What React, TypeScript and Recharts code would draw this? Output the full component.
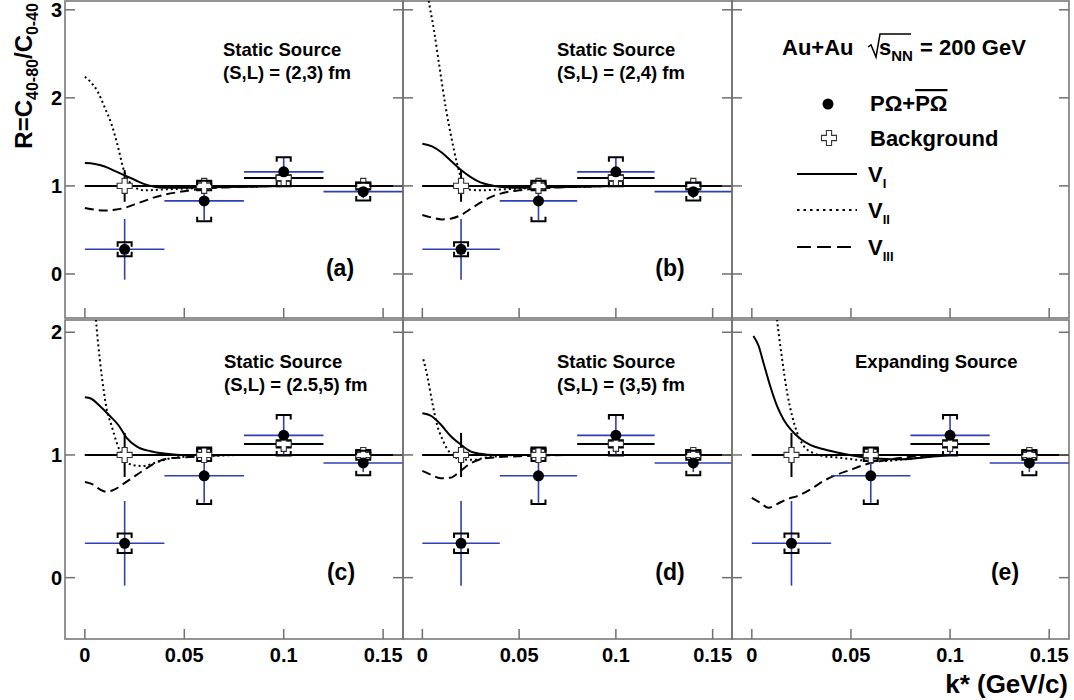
import React from 'react';
import { ComposedChart, Line, Scatter, ErrorBar, XAxis, YAxis, ReferenceLine, ReferenceArea } from 'recharts';

// measured ratio and background (same in every panel)
const kStar = [0.02, 0.06, 0.1, 0.14];
const kBin = [0.02, 0.02, 0.02, 0.02];
const ratio = [0.28, 0.83, 1.16, 0.935];
const ratioStat = [0.345, 0.22, 0.16, 0.075];
const ratioSys = [0.08, 0.23, 0.165, 0.1];
const bgRatio = [1.0, 1.0, 1.09, 1.0];
const bgStat = [0.18, 0.03, 0.03, 0.02];
const bgSys = [0, 0.05, 0.03, 0.04];

const xTicks = [0, 0.05, 0.1, 0.15];
const yTicksTop = [0, 1, 2, 3];
const yTicksBottom = [0, 1, 2];

// model curves as [k*, R]
const aV1 = [[0, 1.26], [0.005, 1.25], [0.01, 1.22], [0.015, 1.17], [0.02, 1.12], [0.025, 1.07], [0.03, 1.02], [0.035, 0.99], [0.04, 0.98], [0.05, 0.98], [0.06, 0.985], [0.08, 0.99], [0.1, 1.0], [0.16, 1.0]];
const aV2 = [[0, 2.24], [0.0025, 2.19], [0.0067, 2.06], [0.01, 1.89], [0.0134, 1.7], [0.0168, 1.43], [0.0193, 1.2], [0.022, 1.06], [0.0252, 0.985], [0.03, 0.95], [0.04, 0.96], [0.05, 0.97], [0.06, 0.98], [0.08, 0.99], [0.1, 1.0], [0.16, 1.0]];
const aV3 = [[0, 0.75], [0.005, 0.73], [0.01, 0.72], [0.015, 0.73], [0.02, 0.75], [0.025, 0.79], [0.03, 0.83], [0.035, 0.87], [0.04, 0.9], [0.05, 0.94], [0.06, 0.97], [0.08, 0.99], [0.1, 1.0], [0.16, 1.0]];

const bV1 = [[0, 1.48], [0.005, 1.45], [0.01, 1.38], [0.015, 1.28], [0.02, 1.18], [0.025, 1.1], [0.03, 1.04], [0.035, 1.01], [0.04, 0.99], [0.05, 0.98], [0.06, 0.985], [0.08, 0.99], [0.1, 1.0], [0.16, 1.0]];
const bV2 = [[0.001, 3.5], [0.003, 3.15], [0.006, 2.77], [0.009, 2.33], [0.012, 1.9], [0.015, 1.55], [0.018, 1.25], [0.021, 1.03], [0.024, 0.96], [0.03, 0.95], [0.04, 0.96], [0.05, 0.97], [0.06, 0.98], [0.08, 0.99], [0.1, 1.0], [0.16, 1.0]];
const bV3 = [[0, 0.67], [0.005, 0.64], [0.01, 0.62], [0.015, 0.63], [0.02, 0.67], [0.025, 0.74], [0.03, 0.81], [0.035, 0.87], [0.04, 0.91], [0.05, 0.95], [0.06, 0.97], [0.08, 0.99], [0.1, 1.0], [0.16, 1.0]];

const cV1 = [[0, 1.47], [0.003, 1.46], [0.0075, 1.4], [0.0125, 1.32], [0.017, 1.24], [0.021, 1.14], [0.026, 1.07], [0.033, 1.03], [0.041, 1.01], [0.05, 1.0], [0.16, 1.0]];
const cV2 = [[0.002, 3.0], [0.004, 2.5], [0.0055, 2.12], [0.0075, 1.78], [0.0096, 1.51], [0.011, 1.37], [0.0134, 1.24], [0.016, 1.1], [0.019, 0.99], [0.0235, 0.92], [0.029, 0.91], [0.036, 0.94], [0.041, 0.965], [0.05, 0.985], [0.06, 0.99], [0.08, 1.0], [0.16, 1.0]];
const cV3 = [[0, 0.78], [0.004, 0.76], [0.0075, 0.72], [0.011, 0.7], [0.015, 0.72], [0.019, 0.76], [0.024, 0.815], [0.029, 0.87], [0.036, 0.94], [0.041, 0.97], [0.05, 0.98], [0.06, 0.99], [0.07, 1.0], [0.16, 1.0]];

const dV1 = [[0, 1.34], [0.0043, 1.32], [0.0094, 1.25], [0.0146, 1.155], [0.0197, 1.087], [0.0248, 1.03], [0.03, 1.01], [0.037, 1.0], [0.16, 1.0]];
const dV2 = [[0.0005, 1.78], [0.0026, 1.64], [0.0051, 1.43], [0.0077, 1.24], [0.0103, 1.13], [0.0128, 1.05], [0.0163, 0.99], [0.0197, 0.965], [0.0265, 0.96], [0.033, 0.98], [0.04, 0.99], [0.05, 1.0], [0.16, 1.0]];
const dV3 = [[0, 0.87], [0.0043, 0.84], [0.0094, 0.81], [0.0146, 0.815], [0.0197, 0.87], [0.0248, 0.93], [0.03, 0.965], [0.037, 0.98], [0.05, 0.99], [0.06, 0.995], [0.08, 1.0], [0.16, 1.0]];

const eV1 = [[0.0008, 1.97], [0.0034, 1.89], [0.0059, 1.75], [0.0093, 1.56], [0.0127, 1.4], [0.016, 1.29], [0.0195, 1.21], [0.0246, 1.13], [0.0297, 1.08], [0.0364, 1.046], [0.043, 1.02], [0.05, 0.997], [0.057, 0.98], [0.065, 0.97], [0.074, 0.965], [0.084, 0.975], [0.094, 0.99], [0.1, 1.0], [0.16, 1.0]];
const eV2 = [[0.008, 3.0], [0.0105, 2.5], [0.0127, 2.11], [0.0153, 1.78], [0.0178, 1.51], [0.0203, 1.32], [0.0229, 1.18], [0.0263, 1.07], [0.0305, 1.02], [0.0364, 0.99], [0.043, 0.98], [0.053, 0.96], [0.065, 0.95], [0.077, 0.965], [0.091, 0.99], [0.1, 1.0], [0.16, 1.0]];
const eV3 = [[0, 0.65], [0.0042, 0.61], [0.0085, 0.57], [0.0127, 0.6], [0.0178, 0.64], [0.0229, 0.665], [0.0297, 0.72], [0.0364, 0.79], [0.043, 0.84], [0.05, 0.88], [0.0568, 0.92], [0.065, 0.95], [0.077, 0.98], [0.091, 0.997], [0.1, 1.0], [0.16, 1.0]];

const FONT = '"Liberation Sans", Arial, Helvetica, sans-serif';
const FRAME = '#707070';
const BLUE = '#2f3fb4';
const DASHES = [undefined, '2 3', '9 5'];

// frame boxes of the pads, in page pixels
const COLS = [{ left: 65, width: 338 }, { left: 403, width: 329 }, { left: 732, width: 337 }];
const ROWS = [
  { top: 1, height: 317, domain: [-0.5, 3.1], ticks: yTicksTop },
  { top: 320, height: 319, domain: [-0.5, 2.1], ticks: yTicksBottom },
];

const panels = [
  { col: 0, row: 0, curves: [aV1, aV2, aV3] },
  { col: 1, row: 0, curves: [bV1, bV2, bV3] },
  { col: 2, row: 0, curves: [] },
  { col: 0, row: 1, curves: [cV1, cV2, cV3] },
  { col: 1, row: 1, curves: [dV1, dV2, dV3] },
  { col: 2, row: 1, curves: [eV1, eV2, eV3] },
];

const notes = [
  { lines: ['Static Source', '(S,L) = (2,3) fm'], x: 223, y: [56, 79], tag: '(a)', tx: 340, ty: 276 },
  { lines: ['Static Source', '(S,L) = (2,4) fm'], x: 557, y: [56, 79], tag: '(b)', tx: 670, ty: 276 },
  { lines: ['Static Source', '(S,L) = (2.5,5) fm'], x: 224, y: [368, 391], tag: '(c)', tx: 341, ty: 580 },
  { lines: ['Static Source', '(S,L) = (3,5) fm'], x: 557, y: [368, 391], tag: '(d)', tx: 670, ty: 580 },
  { lines: ['Expanding Source'], x: 855, y: [368], tag: '(e)', tx: 1005, ty: 580 },
];

const toPts = (pairs: number[][]) => pairs.map(([x, y]) => ({ x, y }));
const dataPts = kStar.map((x, i) => ({ x, y: ratio[i], ex: kBin[i], ey: ratioStat[i] }));
const bgPts = kStar.map((x, i) => ({ x, y: bgRatio[i], ex: kBin[i], ey: bgStat[i] }));
const brackets = (vals: number[], sys: number[]) =>
  kStar.flatMap((x, i) => (sys[i] > 0 ? [{ x, y: vals[i] + sys[i], side: 1 }, { x, y: vals[i] - sys[i], side: -1 }] : []));
const dataBr = brackets(ratio, ratioSys);
const bgBr = brackets(bgRatio, bgSys);

const TICK = 10;
const leftTick = (label: boolean) => (p: any) => (
  <g>
    <line x1={p.x} y1={p.y} x2={p.x + TICK} y2={p.y} stroke={FRAME} strokeWidth={1.5} />
    {label && (
      <text x={p.x - 3} y={p.y + 7} textAnchor="end" fontFamily={FONT} fontWeight="bold" fontSize={20} fill="#000">
        {String(p.payload.value)}
      </text>
    )}
  </g>
);
const rightTick = (p: any) => (
  <line x1={p.x} y1={p.y} x2={p.x - TICK} y2={p.y} stroke={FRAME} strokeWidth={1.5} />
);
const bottomTick = (label: boolean) => (p: any) => (
  <g>
    <line x1={p.x} y1={p.y} x2={p.x} y2={p.y - TICK} stroke={FRAME} strokeWidth={1.5} />
    {label && (
      <text x={p.x} y={p.y + 23} textAnchor="middle" fontFamily={FONT} fontWeight="bold" fontSize={20} fill="#000">
        {String(p.payload.value)}
      </text>
    )}
  </g>
);

const dot = (p: any) => <circle cx={p.cx} cy={p.cy} r={5.5} fill="#000" />;
const crossPoints = (cx: number, cy: number, a: number, w: number) =>
  [[-w, -a], [w, -a], [w, -w], [a, -w], [a, w], [w, w], [w, a], [-w, a], [-w, w], [-a, w], [-a, -w], [-w, -w]]
    .map(([dx, dy]) => `${cx + dx},${cy + dy}`)
    .join(' ');
const cross = (p: any) => <polygon points={crossPoints(p.cx, p.cy, 7.5, 2.6)} fill="#fff" stroke="#333" strokeWidth={1.1} />;
const bracket = (p: any) => {
  const s = p.payload.side;
  return (
    <path d={`M${p.cx - 7},${p.cy + 4.5 * s} V${p.cy} H${p.cx + 7} V${p.cy + 4.5 * s}`} fill="none" stroke="#000" strokeWidth={2} />
  );
};

function Panel({ col, row, curves }: { col: number; row: number; curves: number[][][] }) {
  const c = COLS[col];
  const r = ROWS[row];
  const padL = col === 0 ? 65 : 4;
  const padB = row === 1 ? 40 : 4;
  const padT = 4;
  const padR = 4;
  const hasData = curves.length > 0;
  return (
    <div style={{ position: 'absolute', left: c.left - padL, top: r.top - padT }}>
      <ComposedChart width={padL + c.width + padR} height={padT + r.height + padB} margin={{ top: padT, right: 0, bottom: 0, left: 0 }}>
        <XAxis type="number" dataKey="x" domain={[-0.01, 0.16]} ticks={xTicks} interval={0} allowDataOverflow height={padB}
          axisLine={false} tickLine={false} tickSize={0} tickMargin={0} tick={bottomTick(row === 1)} />
        <YAxis type="number" domain={r.domain} ticks={r.ticks} interval={0} allowDataOverflow width={padL}
          axisLine={false} tickLine={false} tickSize={0} tickMargin={0} tick={leftTick(col === 0)} />
        <YAxis yAxisId="r" orientation="right" type="number" domain={r.domain} ticks={r.ticks} interval={0} allowDataOverflow width={padR}
          axisLine={false} tickLine={false} tickSize={0} tickMargin={0} tick={rightTick} />
        <ReferenceArea x1={-0.01} x2={0.16} y1={r.domain[0]} y2={r.domain[1]} fill="none" fillOpacity={0} stroke={FRAME} strokeWidth={1.5} />
        {hasData && <ReferenceLine segment={[{ x: 0, y: 1 }, { x: 0.16, y: 1 }]} stroke="#000" strokeWidth={2} />}
        {curves.map((cv, i) => (
          <Line key={i} data={toPts(cv)} dataKey="y" type="monotone" stroke="#000" strokeWidth={2}
            strokeDasharray={DASHES[i]} dot={false} activeDot={false} isAnimationActive={false} />
        ))}
        {hasData && <Scatter data={bgBr} dataKey="y" shape={bracket} isAnimationActive={false} />}
        {hasData && (
          <Scatter data={bgPts} dataKey="y" shape={cross} isAnimationActive={false}>
            <ErrorBar dataKey="ex" direction="x" width={0} stroke="#000" strokeWidth={2} />
            <ErrorBar dataKey="ey" direction="y" width={0} stroke="#000" strokeWidth={2} />
          </Scatter>
        )}
        {hasData && <Scatter data={dataBr} dataKey="y" shape={bracket} isAnimationActive={false} />}
        {hasData && (
          <Scatter data={dataPts} dataKey="y" shape={dot} isAnimationActive={false}>
            <ErrorBar dataKey="ex" direction="x" width={0} stroke={BLUE} strokeWidth={1.6} />
            <ErrorBar dataKey="ey" direction="y" width={0} stroke={BLUE} strokeWidth={1.6} />
          </Scatter>
        )}
      </ComposedChart>
    </div>
  );
}

const txt = { fontFamily: FONT, fontWeight: 'bold' as const, fill: '#000' };

export default function App() {
  return (
    <div style={{ position: 'absolute', left: 0, top: 0, width: 1074, height: 700, background: '#fff' }}>
      {panels.map((p, i) => (
        <Panel key={i} col={p.col} row={p.row} curves={p.curves} />
      ))}
      <svg width={1074} height={700} style={{ position: 'absolute', left: 0, top: 0, pointerEvents: 'none' }}>
        {notes.map((n, i) => (
          <g key={i} {...txt}>
            {n.lines.map((l, j) => (
              <text key={j} x={n.x} y={n.y[j]} fontSize={18.5}>{l}</text>
            ))}
            <text x={n.tx} y={n.ty} fontSize={23} textAnchor="middle">{n.tag}</text>
          </g>
        ))}

        {/* axis titles */}
        <text transform="translate(32,3) rotate(-90)" textAnchor="end" fontSize={24} {...txt}>
          R=C<tspan fontSize={16} dy={6}>40-80</tspan>
          <tspan dy={-6}>/C</tspan>
          <tspan fontSize={16} dy={6}>0-40</tspan>
        </text>
        <text x={1068} y={693} textAnchor="end" fontSize={26} {...txt}>k* (GeV/c)</text>

        {/* legend pad */}
        <g {...txt} fontSize={22}>
          <text x={782} y={55}>
            Au+Au<tspan x={879}>s</tspan>
            <tspan fontSize={15} dy={6}>NN</tspan>
            <tspan x={920} dy={-6}>= 200 GeV</tspan>
          </text>
          <path d="M868,47 L871,45 L876,57 L880,34 L911,34" fill="none" stroke="#000" strokeWidth={1.5} />
          <circle cx={828} cy={104} r={5.5} fill="#000" />
          <text x={870} y={111}>
            PΩ+<tspan style={{ textDecoration: 'overline' }}>PΩ</tspan>
          </text>
          <polygon points={crossPoints(829, 138, 7.5, 2.6)} fill="#fff" stroke="#333" strokeWidth={1.1} />
          <text x={870} y={146}>Background</text>
          <line x1={797} y1={174} x2={857} y2={174} stroke="#000" strokeWidth={2} />
          <text x={868} y={182}>V<tspan fontSize={13} dy={6}>I</tspan></text>
          <line x1={797} y1={210} x2={857} y2={210} stroke="#000" strokeWidth={2} strokeDasharray="2.5 4" />
          <text x={868} y={218}>V<tspan fontSize={13} dy={6}>II</tspan></text>
          <line x1={797} y1={247} x2={857} y2={247} stroke="#000" strokeWidth={2} strokeDasharray="14 6" />
          <text x={868} y={255}>V<tspan fontSize={13} dy={6}>III</tspan></text>
        </g>
      </svg>
    </div>
  );
}
